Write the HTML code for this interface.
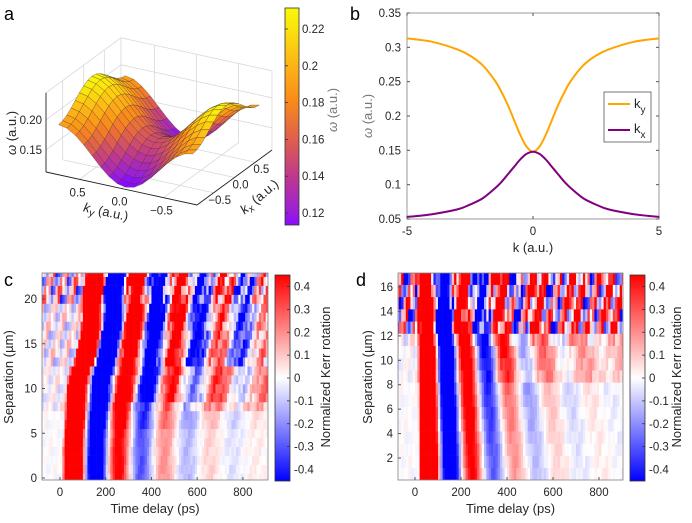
<!DOCTYPE html>
<html><head><meta charset="utf-8">
<style>
html,body{margin:0;padding:0;background:#fff;}
svg{display:block;font-family:"Liberation Sans",sans-serif;}
.tk{font-size:11.5px;fill:#262626;}
.ttl{font-size:13px;fill:#262626;}
.pl{font-size:18px;fill:#000;}
</style></head>
<body>
<svg id="fig" width="692" height="523" viewBox="0 0 692 523">
<defs>
 <clipPath id="clipC"><rect x="42" y="273" width="226" height="207"/></clipPath>
 <clipPath id="clipD"><rect x="398" y="273" width="225" height="207"/></clipPath>
 <linearGradient id="gradA" x1="0" y1="1" x2="0" y2="0">
  <stop offset="0" stop-color="#8a0aff"/><stop offset="0.06" stop-color="#9a1fd8"/>
  <stop offset="0.23" stop-color="#c03a8a"/><stop offset="0.40" stop-color="#e0604a"/>
  <stop offset="0.57" stop-color="#f98a1a"/><stop offset="0.74" stop-color="#fdb515"/>
  <stop offset="0.91" stop-color="#fbe40c"/><stop offset="1" stop-color="#f8f80a"/>
 </linearGradient>
 <linearGradient id="gradK" x1="0" y1="1" x2="0" y2="0">
  <stop offset="0" stop-color="#0000ff"/><stop offset="0.5" stop-color="#ffffff"/><stop offset="1" stop-color="#ff0000"/>
 </linearGradient>
</defs>
<g id="panelA"></g>
<g id="panelB"></g>
<g id="panelC"></g>
<g id="panelD"></g>
</svg>
<script>
// ---------- Panel b data ----------
const bK = [-5,-4,-3,-2.5,-2,-1.5,-1.25,-1,-0.75,-0.5,-0.25,0,0.25,0.5,0.75,1,1.25,1.5,2,2.5,3,4,5];
const bKy = [0.313,0.308,0.297,0.288,0.274,0.251,0.235,0.216,0.194,0.172,0.155,0.148,0.155,0.172,0.194,0.216,0.235,0.251,0.274,0.288,0.297,0.308,0.313];
const bKx = [0.053,0.057,0.064,0.071,0.080,0.095,0.104,0.115,0.126,0.137,0.145,0.148,0.145,0.137,0.126,0.115,0.104,0.095,0.080,0.071,0.064,0.057,0.053];
const bXTicks = [-5,0,5];
const bYTicks = [0.05,0.1,0.15,0.2,0.25,0.3,0.35];
const bYLabels = ["0.05","0.1","0.15","0.2","0.25","0.3","0.35"];
// ---------- Panel a data ----------
const aGrid = [-0.8,-0.7,-0.6,-0.5,-0.4,-0.3,-0.2,-0.1,0,0.1,0.2,0.3,0.4,0.5,0.6,0.7,0.8];
const aKyAmp = [0.08];
const aKxAmp = [0.04];
const aBase = [0.15];
const aCbTicks = [0.12,0.14,0.16,0.18,0.2,0.22];
const aCbLabels = ["0.12","0.14","0.16","0.18","0.2","0.22"];
// ---------- Heatmap shared ----------
const heatTicksX = [0,200,400,600,800];
const kerrTicks = [0.4,0.3,0.2,0.1,0,-0.1,-0.2,-0.3,-0.4];
const kerrLabels = ["0.4","0.3","0.2","0.1","0","-0.1","-0.2","-0.3","-0.4"];
const texture = [0.8,-0.6,0.2,-0.9,0.5,0.1,-0.3,0.9,-0.7,0.4,-0.2,0.6,-1,0.3,0.7,-0.5,0,-0.8,0.9,-0.4,0.2,0.5,-0.6];
// ---------- Panel c rows ----------
const cSep    = [0,1,2,3,4,5,6,7,8,9,10,11,12,13,14,15,16,17,18,19,20,21,22,23];
const cDelay  = [10,10,10,10,12,14,16,18,20,22,25,30,40,60,68,74,80,85,90,93,95,97,99,100];
const cPeriod = [200,200,200,200,200,200,200,200,200,205,205,205,205,192,192,192,192,190,190,190,190,190,190,190];
const cTau    = [220,220,220,220,220,220,260,260,260,380,380,380,380,450,450,450,450,450,450,450,450,450,450,450];
const cBg     = [0,0,0,0,0,0,0,0,0.1,0.1,0.1,0.1,0.1,-0.05,-0.05,-0.05,-0.05,-0.05,-0.05,-0.05,0,0,0,0];
const cNoise  = [0.03,0.03,0.03,0.03,0.03,0.03,0.03,0.03,0.1,0.1,0.1,0.1,0.1,0.18,0.18,0.18,0.18,0.18,0.18,0.18,0.4,0.4,0.4,0.4];
const cYTicks = [0,5,10,15,20];
// ---------- Panel d rows ----------
const dSep    = [0.7,1.7,2.7,3.7,4.7,5.7,6.7,7.7,8.7,9.7,10.7,11.7,12.7,13.7,14.7,15.7,16.7];
const dDelay  = [15,15,15,15,14,14,13,13,12,12,11,10,8,5,5,5,5];
const dPeriod = [190,188,186,184,182,180,178,176,174,172,170,165,160,160,160,160,160];
const dTau    = [200,200,205,210,215,220,225,230,240,250,260,280,300,320,320,320,320];
const dBg     = [0,0,0,0,0,0,0,0,0.1,0.1,0.1,0.1,0.15,0.15,0.15,0.15,0.15];
const dNoise  = [0.03,0.03,0.03,0.03,0.03,0.03,0.03,0.03,0.06,0.06,0.06,0.12,0.55,0.55,0.55,0.55,0.55];
const dYTicks = [2,4,6,8,10,12,14,16];

const NS = "http://www.w3.org/2000/svg";
function mk(parent, tag, attrs, text){
  const e = document.createElementNS(NS, tag);
  for (const k in attrs) e.setAttribute(k, attrs[k]);
  if (text !== undefined) e.textContent = text;
  parent.appendChild(e); return e;
}

// ===================== Panel a =====================
(function(){
  const g = document.getElementById('panelA');
  const FR=[197,205], FL=[46,172], R=[272,150], zs=600, z0=0.113;
  function proj(kx,ky,z){
    const u=(ky+0.9)/1.8, v=(kx+0.9)/1.8;
    return [FR[0]+u*(FL[0]-FR[0])+v*(R[0]-FR[0]), FR[1]+u*(FL[1]-FR[1])+v*(R[1]-FR[1])-(z-z0)*zs];
  }
  function omega(kx,ky){
    return aBase[0] + aKyAmp[0]*Math.pow(Math.sin(Math.PI*ky/1.6),2) - aKxAmp[0]*Math.pow(Math.sin(Math.PI*kx/1.6),2);
  }
  const stops=[[0.1135,[138,10,255]],[0.12,[154,31,216]],[0.14,[192,58,138]],[0.16,[224,96,74]],[0.18,[249,138,26]],[0.2,[253,181,21]],[0.22,[251,228,12]],[0.2314,[248,248,10]]];
  function cmap(z){
    if(z<=stops[0][0]) return 'rgb('+stops[0][1]+')';
    for(let i=1;i<stops.length;i++){ if(z<=stops[i][0]){ const a=stops[i-1],b=stops[i],t=(z-a[0])/(b[0]-a[0]);
      return 'rgb('+[0,1,2].map(j=>Math.round(a[1][j]+t*(b[1][j]-a[1][j]))).join(',')+')'; } }
    return 'rgb('+stops[stops.length-1][1]+')';
  }
  const L = s => s.map(p=>p[0].toFixed(1)+','+p[1].toFixed(1)).join(' ');
  const wall = mk(g,'g',{stroke:'#d8d8d8','stroke-width':0.8,fill:'none'});
  
  
  const zt=0.245, gv=[-0.5,0,0.5];
  gv.forEach(v=>{
    let p=proj(0.9,v,z0),q=proj(0.9,v,zt); mk(wall,'line',{x1:p[0],y1:p[1],x2:q[0],y2:q[1]});
    p=proj(v,0.9,z0); q=proj(v,0.9,zt); mk(wall,'line',{x1:p[0],y1:p[1],x2:q[0],y2:q[1]});
    p=proj(-0.9,v,z0); q=proj(0.9,v,z0); mk(wall,'line',{x1:p[0],y1:p[1],x2:q[0],y2:q[1]});
    p=proj(v,-0.9,z0); q=proj(v,0.9,z0); mk(wall,'line',{x1:p[0],y1:p[1],x2:q[0],y2:q[1]});
  });
  [0.15,0.2].forEach(z=>{
    let p=proj(-0.9,0.9,z),q=proj(0.9,0.9,z),r=proj(0.9,-0.9,z);
    mk(wall,'polyline',{points:L([p,q,r])});
  });
  let p1=proj(0.9,0.9,z0),p2=proj(0.9,0.9,zt); mk(wall,'line',{x1:p1[0],y1:p1[1],x2:p2[0],y2:p2[1]});
  p1=proj(0.9,-0.9,z0);p2=proj(0.9,-0.9,zt); mk(wall,'line',{x1:p1[0],y1:p1[1],x2:p2[0],y2:p2[1]});
  p1=proj(-0.9,0.9,zt);p2=proj(0.9,0.9,zt); let p3=proj(0.9,-0.9,zt); mk(wall,'polyline',{points:L([p1,p2,p3])});
  const ax = mk(g,'g',{stroke:'#222','stroke-width':0.9,fill:'none'});
  
  
  p1=proj(-0.9,0.9,z0); p2=proj(-0.9,-0.9,z0); p3=proj(0.9,-0.9,z0);
  mk(ax,'polyline',{points:L([p1,p2,p3])});
  p2=proj(-0.9,0.9,zt); mk(ax,'line',{x1:p1[0],y1:p1[1],x2:p2[0],y2:p2[1]});
  const quads=[];
  for(let i=0;i<aGrid.length-1;i++) for(let j=0;j<aGrid.length-1;j++){
    const x0=aGrid[i],x1=aGrid[i+1],y0=aGrid[j],y1=aGrid[j+1];
    quads.push({d:x0+x1+y0+y1,kx:[x0,x1,x1,x0],ky:[y0,y0,y1,y1]});
  }
  quads.sort((a,b)=>b.d-a.d);
  const sg = mk(g,'g',{stroke:'#3a2a2a','stroke-width':0.4,'stroke-opacity':0.7});
  
  
  quads.forEach(q=>{
    let zsum=0; const pts=[];
    for(let k=0;k<4;k++){ const z=omega(q.kx[k],q.ky[k]); zsum+=z; pts.push(proj(q.kx[k],q.ky[k],z)); }
    const poly = mk(sg,'polygon',{points:L(pts),fill:cmap(zsum/4)});
    
    
  });
  [[0.2,"0.20"],[0.15,"0.15"]].forEach(([z,s])=>{ const p=proj(-0.9,0.9,z);
    const t=mk(g,'text',{x:p[0]-4,y:p[1]+4,'text-anchor':'end',class:'tk','font-size':'11'},s);
      });
  [[0.5,"0.5"],[0,"0.0"],[-0.5,"−0.5"]].forEach(([v,s])=>{ const p=proj(-0.9,v,z0);
    const t=mk(g,'text',{x:p[0]-2,y:p[1]+17,'text-anchor':'middle',class:'tk','font-size':'11'},s);
      });
  [[0.5,"0.5"],[0,"0.0"],[-0.5,"−0.5"]].forEach(([v,s])=>{ const p=proj(v,-0.9,z0);
    const t=mk(g,'text',{x:p[0]+6,y:p[1]+11,'text-anchor':'middle',class:'tk','font-size':'11'},s);
      });
  const cbY = z => 225 - (z-0.1135)/(0.2314-0.1135)*217;
  const cb = mk(g,'rect',{x:285,y:8,width:14,height:217,fill:'url(#gradA)',stroke:'#333','stroke-width':0.8});
   
  aCbTicks.forEach((z,i)=>{ const y=cbY(z);
    mk(g,'line',{x1:285,x2:288,y1:y,y2:y,stroke:'#333','stroke-width':0.8});
    const t=mk(g,'text',{x:302,y:y+4,class:'tk'},aCbLabels[i]);
      });
})();

// ===================== Panel b =====================
(function(){
  const g=document.getElementById('panelB');
  const X=k=>407+(k+5)/10*252, Y=w=>219-(w-0.05)/0.3*206;
  mk(g,'rect',{x:407,y:13,width:252,height:206,fill:'none',stroke:'#808080','stroke-width':0.8});
  bXTicks.forEach(k=>{ const x=X(k);
    mk(g,'line',{x1:x,x2:x,y1:219,y2:216,stroke:'#555'}); mk(g,'line',{x1:x,x2:x,y1:13,y2:16,stroke:'#555'});
    const t=mk(g,'text',{x:x,y:235,'text-anchor':'middle',class:'tk'},String(k));
      });
  bYTicks.forEach((w,i)=>{ const y=Y(w);
    mk(g,'line',{x1:407,x2:410,y1:y,y2:y,stroke:'#555'}); mk(g,'line',{x1:659,x2:656,y1:y,y2:y,stroke:'#555'});
    const t=mk(g,'text',{x:401,y:y+4,'text-anchor':'end',class:'tk'},bYLabels[i]);
      });
  function path(arr){
    const P=bK.map((k,i)=>[X(k),Y(arr[i])]);
    let d='M'+P[0][0].toFixed(1)+','+P[0][1].toFixed(1);
    for(let i=0;i<P.length-1;i++){
      const p0=P[Math.max(0,i-1)],p1=P[i],p2=P[i+1],p3=P[Math.min(P.length-1,i+2)];
      const c1=[p1[0]+(p2[0]-p0[0])/6,p1[1]+(p2[1]-p0[1])/6], c2=[p2[0]-(p3[0]-p1[0])/6,p2[1]-(p3[1]-p1[1])/6];
      d+='C'+c1[0].toFixed(1)+','+c1[1].toFixed(1)+' '+c2[0].toFixed(1)+','+c2[1].toFixed(1)+' '+p2[0].toFixed(1)+','+p2[1].toFixed(1);
    }
    return d;
  }
  const ly=mk(g,'path',{d:path(bKy),fill:'none',stroke:'#ffa500','stroke-width':2,'stroke-linejoin':'round'});
   
  const lx=mk(g,'path',{d:path(bKx),fill:'none',stroke:'#800080','stroke-width':2,'stroke-linejoin':'round'});
   
  const lg=mk(g,'g',{});  
  mk(lg,'rect',{x:604,y:92,width:47,height:50,fill:'#fff',stroke:'#555','stroke-width':0.8});
  mk(lg,'line',{x1:608,x2:630,y1:104,y2:104,stroke:'#ffa500','stroke-width':2});
  mk(lg,'line',{x1:608,x2:630,y1:130,y2:130,stroke:'#800080','stroke-width':2});
  const t1=mk(lg,'text',{x:634,y:108,class:'ttl','font-size':'14'}); t1.innerHTML='k<tspan dy="5" font-size="10">y</tspan>';
   
  const t2=mk(lg,'text',{x:634,y:133,class:'ttl','font-size':'14'}); t2.innerHTML='k<tspan dy="5" font-size="10">x</tspan>';
   
})();

// ===================== Heatmaps =====================
function kerrColor(v){
  let t=Math.max(-1,Math.min(1,v/0.45));
  if(t>=0){ const c=Math.round(255*(1-t)); return 'rgb(255,'+c+','+c+')'; }
  const c=Math.round(255*(1+t)); return 'rgb('+c+','+c+',255)';
}
function drawHeat(g, clip, X, Yv, rowH, sep, delay, period, tau, bg, noise, bgStart){
  const cg=mk(g,'g',{'clip-path':'url(#'+clip+')'});
   
  for(let r=0;r<sep.length;r++){
    const yTop=Yv(sep[r]+rowH/2), yBot=Yv(sep[r]-rowH/2);
    for(let c=0;c<101;c++){
      const t=-90+c*10, tm=t+5;
      let v=0;
      if(tm>delay[r]){ const s=tm-delay[r]; v=1.5*Math.sin(2*Math.PI*s/period[r])*Math.exp(-s/tau[r]); }
      if(tm>bgStart) v+=bg[r];
      v+=noise[r]*texture[(c*5+r*11)%texture.length];
      const x0=X(t), x1=X(t+10);
      const cell=mk(cg,'rect',{x:x0.toFixed(2),y:yTop.toFixed(2),width:(x1-x0+0.3).toFixed(2),height:(yBot-yTop+0.3).toFixed(2),fill:kerrColor(v)});
      
      
    }
  }
}
function heatAxes(g, X, Yv, box, yTicks, cbX, ylabX, letter, letterX, cbTitleDx){
  mk(g,'rect',{x:box[0],y:box[1],width:box[2],height:box[3],fill:'none',stroke:'#808080','stroke-width':0.8});
  heatTicksX.forEach(tv=>{ const x=X(tv);
    mk(g,'line',{x1:x,x2:x,y1:box[1]+box[3],y2:box[1]+box[3]-3,stroke:'#555'});
    const t=mk(g,'text',{x:x,y:496,'text-anchor':'middle',class:'tk'},String(tv));
      });
  yTicks.forEach(v=>{ const y=Yv(v);
    mk(g,'line',{x1:box[0],x2:box[0]+3,y1:y,y2:y,stroke:'#555'});
    const t=mk(g,'text',{x:box[0]-5,y:y+4,'text-anchor':'end',class:'tk'},String(v));
      });
  const xl=mk(g,'text',{x:box[0]+box[2]/2,y:513,'text-anchor':'middle',class:'ttl'},'Time delay (ps)');
   
  const yl=mk(g,'text',{x:ylabX,y:377,'text-anchor':'middle',class:'ttl',transform:'rotate(-90 '+ylabX+' 377)'});
  yl.innerHTML='Separation (<tspan font-family="DejaVu Sans" font-size="12">μ</tspan>m)';
   
  const cb=mk(g,'rect',{x:cbX,y:275,width:15,height:206,fill:'url(#gradK)',stroke:'#333','stroke-width':0.8});
   
  kerrTicks.forEach((v,i)=>{ const y=378-v*228.75;
    mk(g,'line',{x1:cbX+15,x2:cbX+12,y1:y,y2:y,stroke:'#333','stroke-width':0.8});
    const t=mk(g,'text',{x:cbX+19,y:y+4,class:'tk'},kerrLabels[i]);
      });
  const cx=cbX+cbTitleDx;
  const ct=mk(g,'text',{x:cx,y:377,'text-anchor':'middle',class:'ttl',transform:'rotate(-90 '+cx+' 377)'},'Normalized Kerr rotation');
   
  const pl=mk(g,'text',{x:letterX,y:286,class:'pl'},letter);
   
}
(function(){
  const g=document.getElementById('panelC');
  const X=t=>60+t*0.2286, Yv=s=>478-s*8.95;
  drawHeat(g,'clipC',X,Yv,1,cSep,cDelay,cPeriod,cTau,cBg,cNoise,550);
  heatAxes(g,X,Yv,[42,273,226,207],cYTicks,275,13,'c',4,55);
})();
(function(){
  const g=document.getElementById('panelD');
  const X=t=>415+t*0.23, Yv=s=>458-(s-2)*12.21;
  drawHeat(g,'clipD',X,Yv,1,dSep,dDelay,dPeriod,dTau,dBg,dNoise,350);
  heatAxes(g,X,Yv,[398,273,225,207],dYTicks,630,372,'d',356,51);
})();

// ===================== Static labels =====================
(function(){
  const A=document.getElementById('panelA'), B=document.getElementById('panelB');
  let t=mk(A,'text',{x:4,y:20,class:'pl'},'a');  
  t=mk(B,'text',{x:350,y:20,class:'pl'},'b');  
  t=mk(A,'text',{x:16,y:133,'text-anchor':'middle',class:'ttl',transform:'rotate(-90 16 133)'});
  t.innerHTML='<tspan font-style="italic">ω</tspan> (a.u.)';
   
  t=mk(A,'text',{x:105,y:216,'text-anchor':'middle',class:'ttl',transform:'rotate(12 105 216)'});
  t.innerHTML='<tspan font-style="italic">k</tspan><tspan dy="3" font-size="10" font-style="italic">y</tspan><tspan dy="-3"> (a.u.)</tspan>';
   
  t=mk(A,'text',{x:262,y:200,'text-anchor':'middle',class:'ttl',transform:'rotate(-40 262 200)'});
  t.innerHTML='<tspan font-style="italic">k</tspan><tspan dy="3" font-size="10" font-style="italic">x</tspan><tspan dy="-3"> (a.u.)</tspan>';
   
  t=mk(A,'text',{x:337,y:110,'text-anchor':'middle',class:'ttl',style:'fill:#777',transform:'rotate(-90 337 110)'});
  t.innerHTML='<tspan font-style="italic">ω</tspan> (a.u.)';
   
  t=mk(B,'text',{x:372,y:116,'text-anchor':'middle',class:'ttl',style:'fill:#777',transform:'rotate(-90 372 116)'});
  t.innerHTML='<tspan font-style="italic">ω</tspan> (a.u.)';
   
  t=mk(B,'text',{x:533,y:252,'text-anchor':'middle',class:'ttl'},'k (a.u.)');
   
})();
</script>
</body></html>
